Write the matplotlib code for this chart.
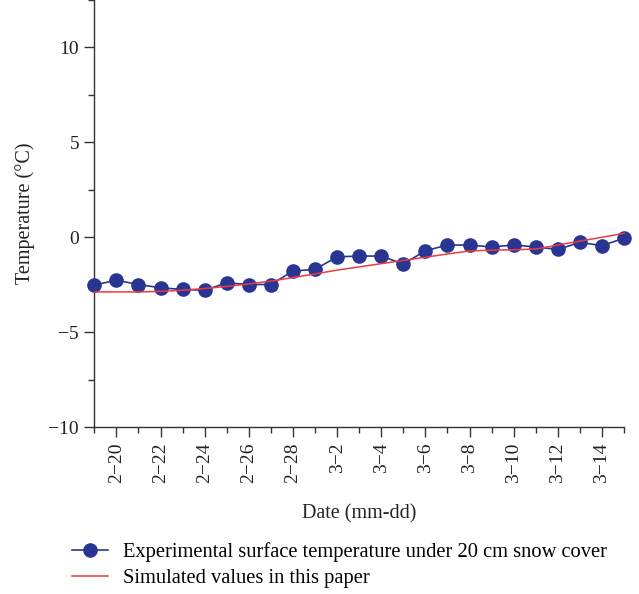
import matplotlib
matplotlib.use("Agg")
import matplotlib.pyplot as plt
from matplotlib.ticker import MultipleLocator, FixedLocator
import numpy as np

plt.rcParams['font.family'] = ['Liberation Serif', 'DejaVu Serif']

# daily dates, 2-19 .. 3-15
dates = ['2-19', '2-20', '2-21', '2-22', '2-23', '2-24', '2-25', '2-26', '2-27', '2-28',
         '3-1', '3-2', '3-3', '3-4', '3-5', '3-6', '3-7', '3-8', '3-9', '3-10',
         '3-11', '3-12', '3-13', '3-14', '3-15']

measured = [-2.52, -2.26, -2.49, -2.66, -2.75, -2.79, -2.40, -2.49, -2.49, -1.78,
            -1.69, -1.03, -0.99, -0.99, -1.41, -0.71, -0.41, -0.41, -0.51, -0.41,
            -0.51, -0.64, -0.27, -0.44, -0.05]

simulated = [-2.88, -2.88, -2.88, -2.85, -2.79, -2.70, -2.59, -2.46, -2.31, -2.12,
             -1.93, -1.73, -1.56, -1.39, -1.22, -1.05, -0.88, -0.72, -0.68, -0.66,
             -0.62, -0.41, -0.20, 0.00, 0.21]

tick_dates = ['2-20', '2-22', '2-24', '2-26', '2-28', '3-2', '3-4', '3-6', '3-8',
              '3-10', '3-12', '3-14']

x = np.arange(len(dates))

fig = plt.figure(figsize=(6.39, 5.94), dpi=100)
ax = fig.add_axes([0.1476, 0.281, 0.829, 0.719])

ax.plot(x, measured, color='#283593', lw=1.2, marker='o', ms=9.5,
        label='Experimental surface temperature under 20 cm snow cover', zorder=3,
        clip_on=False)
ax.plot(x, simulated, color='#ec3b3f', lw=1.1, label='Simulated values in this paper',
        zorder=4, clip_on=False)

ax.set_xlim(0, len(dates) - 1)
ax.set_ylim(-10, 12.5)

tick_pos = [dates.index(d) for d in tick_dates]
ax.xaxis.set_major_locator(FixedLocator(tick_pos))
ax.set_xticklabels([d.replace('-', '\u2212') for d in tick_dates], rotation=90)
ax.xaxis.set_minor_locator(MultipleLocator(1))
ax.yaxis.set_major_locator(MultipleLocator(5))
ax.yaxis.set_minor_locator(MultipleLocator(2.5))

for side in ['top', 'right']:
    ax.spines[side].set_visible(False)
for side in ['left', 'bottom']:
    ax.spines[side].set_color('#333333')
    ax.spines[side].set_linewidth(1.0)

ax.tick_params(which='major', length=7, width=1, color='#333333', labelsize=14,
               labelcolor='#222222', pad=4)
ax.tick_params(which='minor', length=4, width=1, color='#333333')

ax.set_xlabel('Date (mm-dd)', fontsize=14.5, color='#222222', labelpad=15)
ax.set_ylabel('Temperature (°C)', fontsize=14.5, color='#222222', labelpad=10)

fig.legend(loc='upper left', bbox_to_anchor=(0.083, 0.118), frameon=False,
           fontsize=14.8, handlelength=1.75, handletextpad=0.75, labelspacing=0.3,
           bbox_transform=fig.transFigure)

fig.savefig('out.png', dpi=100)
